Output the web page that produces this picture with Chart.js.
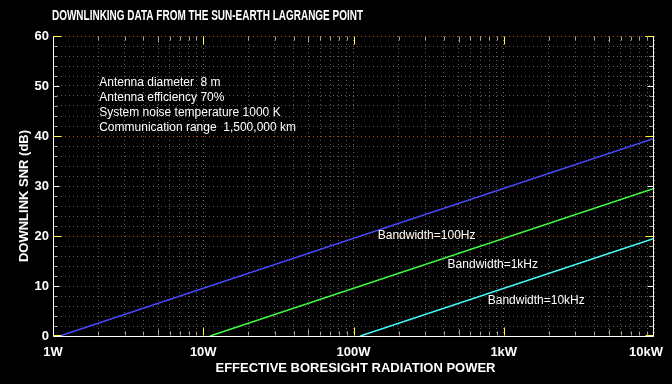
<!DOCTYPE html>
<html>
<head>
<meta charset="utf-8">
<script src="https://cdn.jsdelivr.net/npm/chart.js@4.4.0/dist/chart.umd.min.js"></script>
<style>
  html, body { margin: 0; padding: 0; background: #000; }
  canvas { display: block; }
</style>
</head>
<body>
<canvas id="snrChart" width="672" height="384"></canvas>
<script>
// values
const xDecades = [1, 10, 100, 1000, 10000];
const xDecadeLabels = ["1W", "10W", "100W", "1kW", "10kW"];
const xMinorSteps = [2, 3, 4, 5, 6, 7, 8, 9];
const yMin = 0, yMax = 60, yStep = 2;

const power100Hz = [1.11, 10000];
const snr100Hz = [0, 39.5];
const power1kHz = [11.1, 10000];
const snr1kHz = [0, 29.5];
const power10kHz = [111, 10000];
const snr10kHz = [0, 19.5];

const seriesLabels = ["Bandwidth=100Hz", "Bandwidth=1kHz", "Bandwidth=10kHz"];
const seriesLabelAt = [[145, 20.0], [423, 14.2], [782, 7.0]]; // [power, snr]

const infoLines = [
  "Antenna diameter  8 m",
  "Antenna efficiency 70%",
  "System noise temperature 1000 K",
  "Communication range  1,500,000 km"
];
const infoAt = [2.03, 50.6];

const chartTitle = "DOWNLINKING DATA FROM THE SUN-EARTH LAGRANGE POINT";
const xTitle = "EFFECTIVE BORESIGHT RADIATION POWER";
const yTitle = "DOWNLINK SNR (dB)";

const FONT = "'Liberation Sans', Arial, sans-serif";
const YELLOW = "#ffff40";
const TAN = "#a8a088";
const MAJOR_GRID = "rgb(200,70,0)";
const DECADE_GRID = "rgb(160,100,60)";
const MINOR_GRID = "rgb(95,95,95)";

const toPoints = (xs, ys) => xs.map((x, i) => ({ x: x, y: ys[i] }));

const crisp = (v) => Math.round(v) + 0.5;

const frameTicks = {
  id: "frameTicks",
  afterDatasetsDraw(chart) {
    const { ctx, chartArea: a, scales: { x, y } } = chart;
    const line = (x1, y1, x2, y2, color) => {
      ctx.strokeStyle = color;
      ctx.beginPath();
      ctx.moveTo(x1, y1);
      ctx.lineTo(x2, y2);
      ctx.stroke();
    };
    ctx.save();
    ctx.lineWidth = 1;
    const left = crisp(a.left), right = crisp(a.right) - 1, bottom = crisp(a.bottom), top = crisp(a.top);

    for (let v = yMin; v <= yMax; v += yStep) {
      const py = crisp(y.getPixelForValue(v)) - (v === yMin ? 1 : 0);
      const big = v % 20 === 0, mid = v % 10 === 0;
      const len = big ? 8 : mid ? 6 : 4;
      const col = big ? YELLOW : mid ? "#fff" : TAN;
      line(left, py, left + len, py, col);
      line(right, py, right - len, py, col);
    }

    x.ticks.forEach((t) => {
      let px = crisp(x.getPixelForValue(t.value));
      if (t.value === xDecades[xDecades.length - 1]) px = right;
      const decade = xDecades.includes(t.value);
      const five = !decade && Math.abs(Math.log10(t.value) % 1 - Math.log10(5)) < 1e-6;
      const len = decade ? 8 : five ? 6 : 4;
      const col = decade ? YELLOW : TAN;
      line(px, bottom - 1, px, bottom - 1 - len, col);
      line(px, top, px, top + len, col);
    });

    line(left, top, left, bottom, "#fff");
    line(right, top, right, bottom, "#fff");
    line(left, bottom, right, bottom, "#fff");
    ctx.restore();
  }
};

const chartTexts = {
  id: "chartTexts",
  afterDraw(chart) {
    const { ctx, chartArea: a, scales: { x, y } } = chart;
    ctx.save();
    ctx.fillStyle = "#fff";
    ctx.textBaseline = "middle";

    // the title in the original is a condensed bold face
    ctx.font = "bold 14px " + FONT;
    ctx.textAlign = "left";
    const tw = ctx.measureText(chartTitle).width;
    ctx.save();
    ctx.translate(52, 16);
    ctx.scale(311 / tw, 1);
    ctx.fillText(chartTitle, 0, 0);
    ctx.restore();

    ctx.font = "bold 13px " + FONT;
    ctx.textAlign = "center";
    xDecades.forEach((d, i) => {
      const w = ctx.measureText(xDecadeLabels[i]).width;
      const px = Math.min(x.getPixelForValue(d), chart.width - 9 - w / 2);
      ctx.fillText(xDecadeLabels[i], px, 352);
    });
    ctx.fillText(xTitle, (a.left + a.right) / 2 + 2, 368);

    ctx.save();
    ctx.translate(24, 196);
    ctx.rotate(-Math.PI / 2);
    ctx.fillText(yTitle, 0, 0);
    ctx.restore();

    ctx.font = "12px " + FONT;
    ctx.textAlign = "left";
    const ix = x.getPixelForValue(infoAt[0]);
    const iy = y.getPixelForValue(infoAt[1]);
    infoLines.forEach((t, i) => ctx.fillText(t, ix, iy + i * 15));

    seriesLabels.forEach((t, i) => {
      ctx.fillText(t, x.getPixelForValue(seriesLabelAt[i][0]), y.getPixelForValue(seriesLabelAt[i][1]));
    });
    ctx.restore();
  }
};

new Chart(document.getElementById("snrChart"), {
  type: "line",
  data: {
    datasets: [
      { label: seriesLabels[0], data: toPoints(power100Hz, snr100Hz), borderColor: "#4848ff" },
      { label: seriesLabels[1], data: toPoints(power1kHz, snr1kHz), borderColor: "#40ff40" },
      { label: seriesLabels[2], data: toPoints(power10kHz, snr10kHz), borderColor: "#40ffff" }
    ]
  },
  options: {
    responsive: false,
    animation: false,
    layout: { padding: { top: 36, right: 18, left: 0, bottom: 0 } },
    elements: {
      line: { borderWidth: 1.5, tension: 0 },
      point: { radius: 0 }
    },
    plugins: {
      legend: { display: false },
      tooltip: { enabled: false },
      title: { display: false }
    },
    scales: {
      x: {
        type: "logarithmic",
        min: xDecades[0],
        max: xDecades[xDecades.length - 1],
        afterBuildTicks: (scale) => {
          const ticks = [];
          xDecades.forEach((d, i) => {
            ticks.push({ value: d });
            if (i < xDecades.length - 1) xMinorSteps.forEach((m) => ticks.push({ value: d * m }));
          });
          scale.ticks = ticks;
        },
        afterFit: (scale) => { scale.height = 48; },
        ticks: { display: false, autoSkip: false },
        grid: {
          drawTicks: false,
          color: (c) => xDecades.includes(c.tick.value) ? DECADE_GRID : MINOR_GRID
        },
        border: { display: false, dash: [1, 3] }
      },
      y: {
        type: "linear",
        min: yMin,
        max: yMax,
        afterFit: (scale) => { scale.width = 53; },
        ticks: {
          stepSize: yStep,
          autoSkip: false,
          padding: 4,
          color: "#fff",
          font: { family: FONT, size: 13, weight: "bold" },
          callback: (v) => v % 10 === 0 ? v : ""
        },
        grid: {
          drawTicks: false,
          color: (c) => c.tick.value % 20 === 0 ? MAJOR_GRID : MINOR_GRID
        },
        border: { display: false, dash: [1, 3] }
      }
    }
  },
  plugins: [frameTicks, chartTexts]
});
</script>
</body>
</html>
